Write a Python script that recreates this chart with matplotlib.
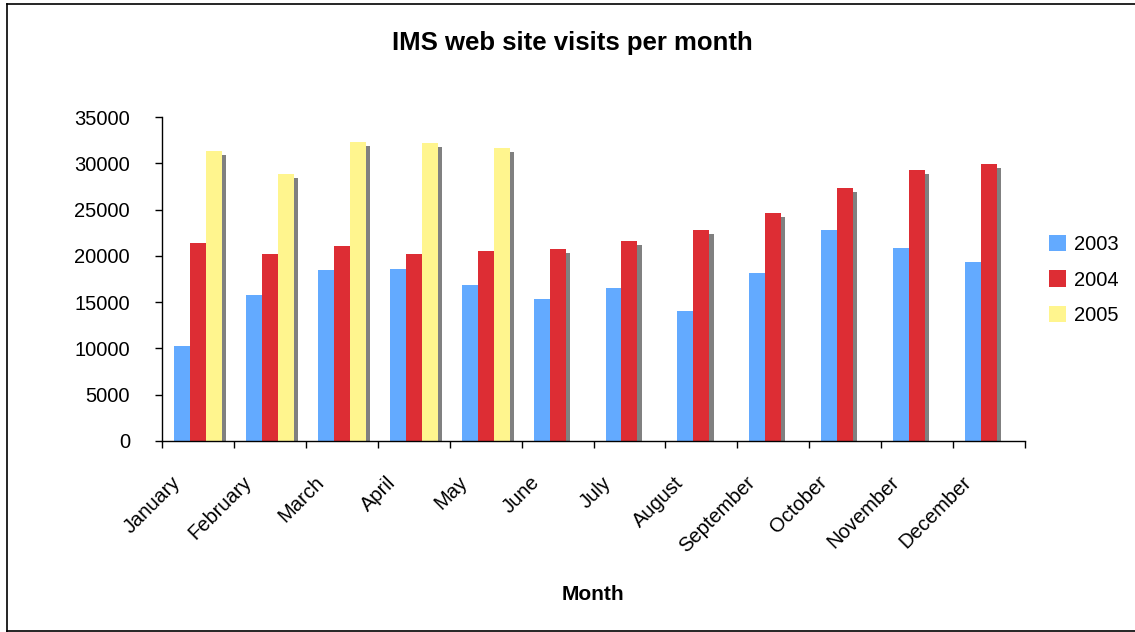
import matplotlib
matplotlib.use('Agg')
import matplotlib.pyplot as plt
import matplotlib.patheffects as pe
import matplotlib.transforms as mtransforms
from matplotlib.lines import Line2D
from matplotlib.patches import Patch
import numpy as np

months = ["January", "February", "March", "April", "May", "June", "July",
          "August", "September", "October", "November", "December"]
visits_2003 = [10260, 15770, 18470, 18570, 16850, 15330, 16520, 14040, 18140, 22790, 20840, 19330]
visits_2004 = [21380, 20190, 21060, 20190, 20520, 20730, 21600, 22790, 24620, 27320, 29270, 29910]
visits_2005 = [31320, 28830, 32290, 32180, 31640]

plt.rcParams['font.family'] = ['Liberation Sans', 'DejaVu Sans']

fig = plt.figure(figsize=(11.35, 6.32), dpi=100)
ax = fig.add_axes([162 / 1135, 1 - 441 / 632, (1025 - 162) / 1135, (441 - 117) / 632])

w = 0.222
x = np.arange(len(months)) + 0.5
shadow = [pe.SimplePatchShadow(offset=(3, -3), shadow_rgbFace='#808080', alpha=1.0), pe.Normal()]

series = [(visits_2003, '#63AAFF', '2003', -w),
          (visits_2004, '#DD2D34', '2004', 0),
          (visits_2005, '#FFF58E', '2005', w)]
handles = []
for vals, col, lab, off in series:
    xs = x[:len(vals)] + off
    bars = ax.bar(xs, vals, width=w, color=col, linewidth=0, zorder=2)
    for b in bars:
        b.set_path_effects(shadow)
    handles.append(Patch(facecolor=col, edgecolor='none', label=lab))

ax.set_xlim(0, 12)
ax.set_ylim(0, 35000)
ax.set_yticks(range(0, 35001, 5000))
ax.set_xticks(range(13))
ax.set_xticklabels([])
ax.set_xticks(x, minor=True)
ax.set_xticklabels(months, minor=True, rotation=45, ha='right', va='top', fontsize=14.5)
ax.tick_params(axis='x', which='minor', length=0, pad=23)
ax.tick_params(axis='x', which='major', length=5, width=1, direction='out')
ax.tick_params(axis='y', length=5, width=1, direction='out', pad=18, labelsize=14.5)

shift = mtransforms.ScaledTranslation(-0.14, 0, fig.dpi_scale_trans)
for lbl in ax.get_xticklabels(minor=True):
    lbl.set_transform(lbl.get_transform() + shift)

for s in ['top', 'right']:
    ax.spines[s].set_visible(False)
for s in ['left', 'bottom']:
    ax.spines[s].set_linewidth(1)
    ax.spines[s].set_zorder(3)

fig.text(572 / 1135, 1 - 43 / 632, "IMS web site visits per month", ha='center', va='center',
         fontsize=18.5, fontweight='bold')
fig.text(593 / 1135, 1 - 594 / 632, "Month", ha='center', va='center', fontsize=15, fontweight='bold')

fig.legend(handles=handles, loc='center left', bbox_to_anchor=(1031 / 1135, 1 - 280 / 632),
           frameon=False, fontsize=14.5, handlelength=0.85, handleheight=0.85,
           handletextpad=0.4, labelspacing=0.8)

# outer frame
fig.add_artist(Line2D([7 / 1135, 7 / 1135], [0.5 / 632, 1 - 4 / 632], transform=fig.transFigure,
                      color='black', lw=1.2))
fig.add_artist(Line2D([7 / 1135, 1], [1 - 4 / 632, 1 - 4 / 632], transform=fig.transFigure,
                      color='black', lw=1.2))
fig.add_artist(Line2D([7 / 1135, 1], [0.8 / 632, 0.8 / 632], transform=fig.transFigure,
                      color='black', lw=1.2))

fig.savefig('out.png', dpi=100)
